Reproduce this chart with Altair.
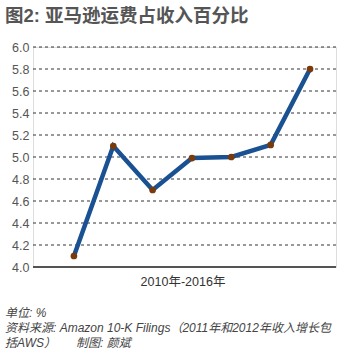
import altair as alt
import pandas as pd

years = [2010, 2011, 2012, 2013, 2014, 2015, 2016]
values = [4.10, 5.10, 4.70, 4.99, 5.00, 5.11, 5.80]
y_ticks = [4.0, 4.2, 4.4, 4.6, 4.8, 5.0, 5.2, 5.4, 5.6, 5.8, 6.0]

title_text = "图2: 亚马逊运费占收入百分比"
x_label = "2010年-2016年"
footer = ["单位: %", "资料来源: Amazon 10-K Filings（2011年和2012年收入增长包",
          "括AWS）\u00a0\u00a0\u00a0\u00a0\u00a0\u00a0制图: 颜斌"]

df = pd.DataFrame({"year": years, "value": values})
gdf = pd.DataFrame({"value": y_ticks[1:]})
font = "Liberation Sans, Noto Sans CJK SC"

W, H = 303, 220
yscale = alt.Scale(domain=[4.0, 6.0], nice=False, zero=False)
yaxis = alt.Axis(values=y_ticks, format=".1f", title=None, grid=False, domain=False, ticks=False,
                 labelFont="Liberation Sans", labelFontSize=12.5, labelColor="#555",
                 labelPadding=4)
x = alt.X("year:Q", scale=alt.Scale(domain=[2008.96, 2016.66], nice=False, zero=False), axis=None)
y = alt.Y("value:Q", scale=yscale, axis=yaxis)

grid = alt.Chart(gdf).mark_rule(color="#333", strokeWidth=1, strokeDash=[3, 3]).encode(
    y=y, x=alt.value(0), x2=alt.value(W))
line = alt.Chart(df).mark_line(color="#1a5192", strokeWidth=4.5).encode(x=x, y=y)
pts = alt.Chart(df).mark_circle(color="#7a3b0c", size=45, opacity=1).encode(x=x, y=y)
base = alt.Chart(df).mark_rule(color="#555", strokeWidth=1.5).encode(
    x=alt.value(0), x2=alt.value(W), y=alt.value(H))

def txt(t, px, py, size, weight="normal", style="normal", color="#444", align="left"):
    return alt.Chart(pd.DataFrame({"t": [t]})).mark_text(
        font=font, fontSize=size, fontWeight=weight, fontStyle=style, color=color,
        align=align, baseline="middle").encode(text="t:N", x=alt.value(px), y=alt.value(py))

texts = [
    txt(title_text, 5 - 33, 16 - 47, 18.5, weight="bold", color="#555"),
    txt(x_label, 183 - 33, 282 - 47, 12.5, color="#333", align="center"),
    txt(footer[0], 5 - 33, 313 - 47, 12, style="italic", color="#444"),
    txt(footer[1], 5 - 33, 328 - 47, 12, style="italic", color="#444"),
    txt(footer[2], 5 - 33, 343 - 47, 12, style="italic", color="#444"),
]

chart = alt.layer(grid, line, base, pts, *texts).properties(
    width=W, height=H,
    autosize=alt.AutoSizeParams(type="none"),
    padding={"left": 33, "top": 47, "right": 18, "bottom": 88},
).configure_view(stroke=None).configure(background="white")

chart.save("out.html", embed_options={"renderer": "svg", "actions": False})
